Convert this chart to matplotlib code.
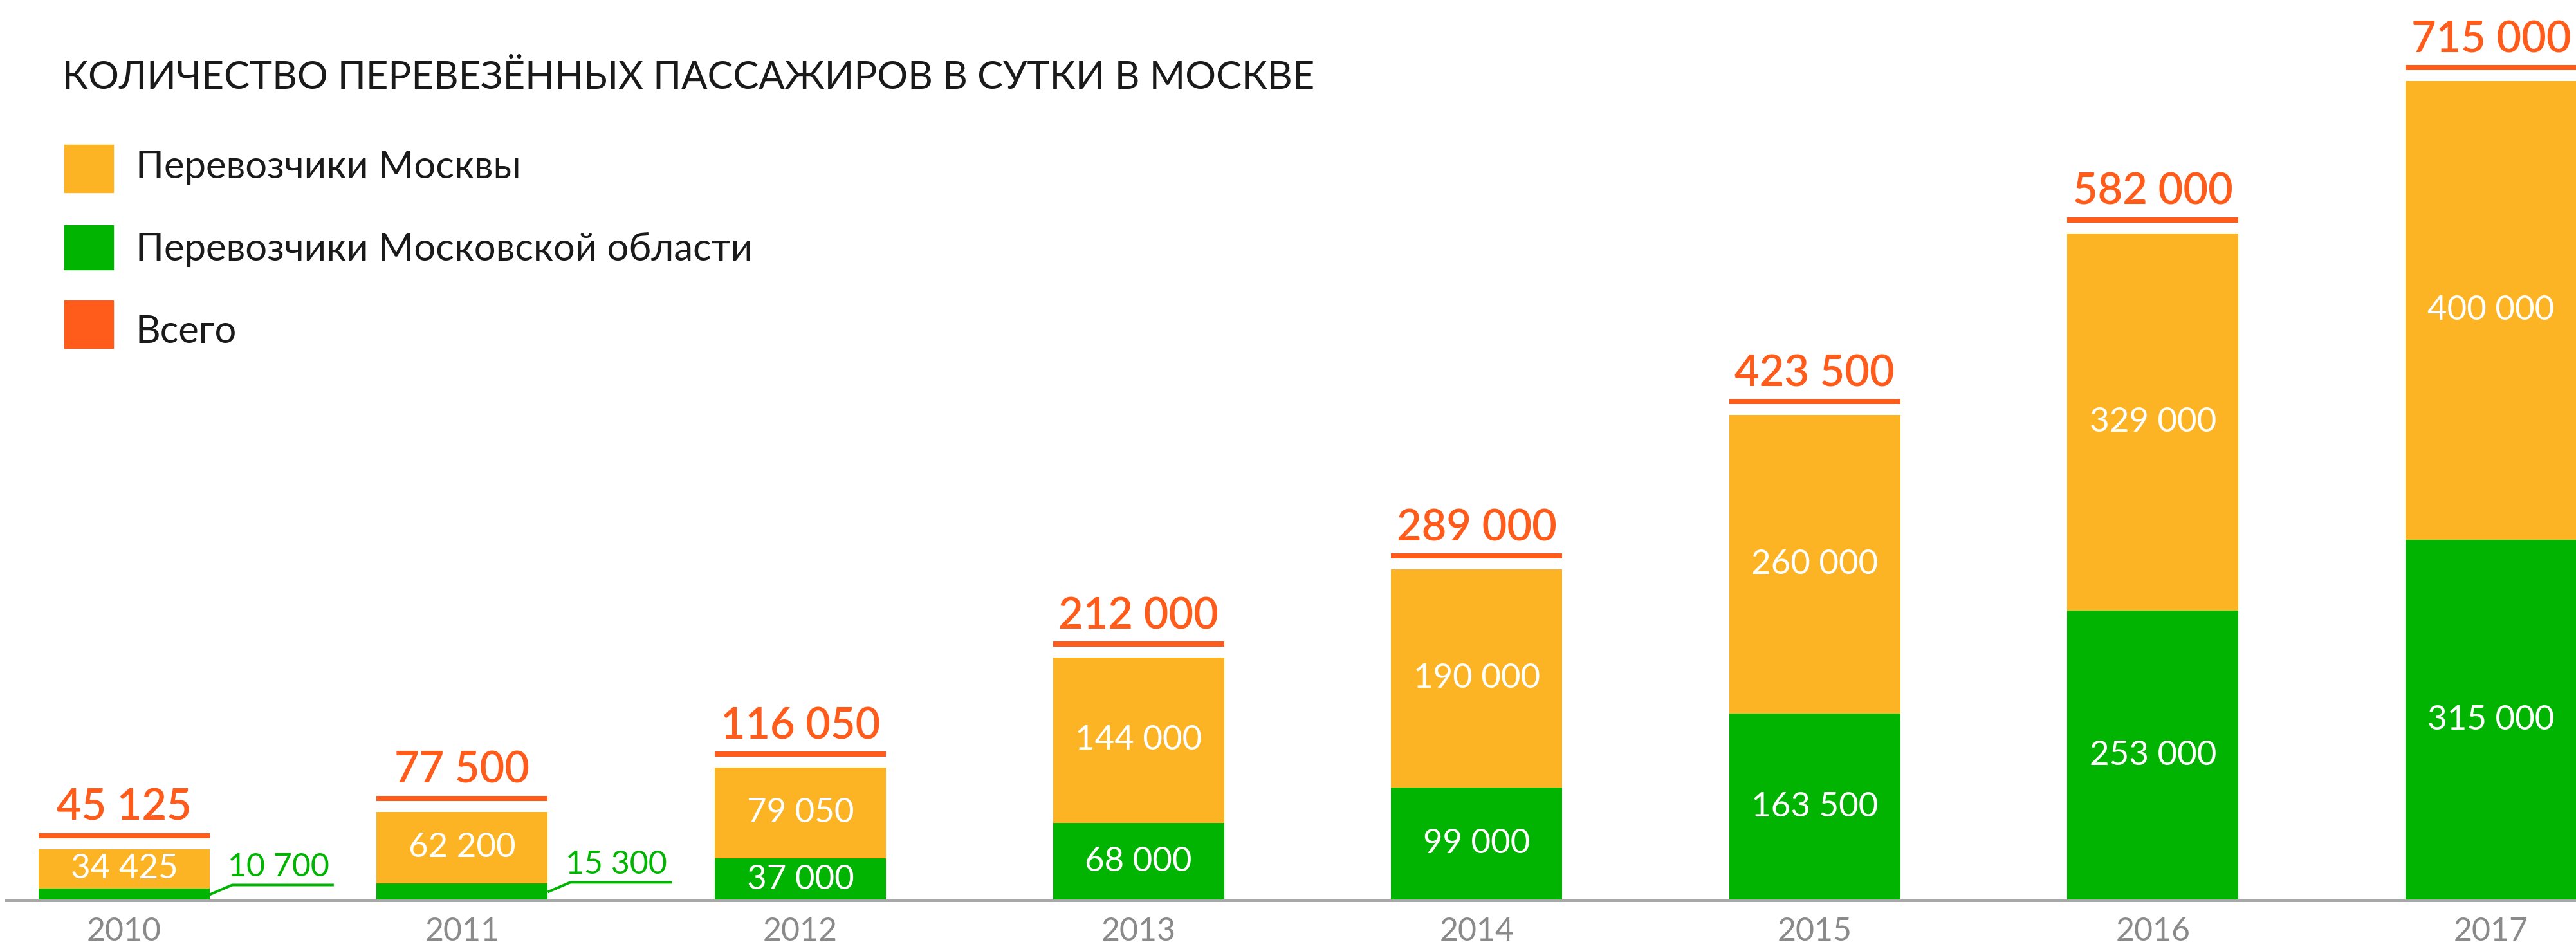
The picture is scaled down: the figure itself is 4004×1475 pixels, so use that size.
import matplotlib
matplotlib.use("Agg")
import matplotlib.pyplot as plt
from matplotlib.patches import Rectangle
import numpy as np

# ---- data ----
years = ["2010", "2011", "2012", "2013", "2014", "2015", "2016", "2017"]
moscow = [34425, 62200, 79050, 144000, 190000, 260000, 329000, 400000]
region = [10700, 15300, 37000, 68000, 99000, 163500, 253000, 315000]
totals = [45125, 77500, 116050, 212000, 289000, 423500, 582000, 715000]
legend_labels = ["Перевозчики Москвы", "Перевозчики Московской области", "Всего"]
title = "КОЛИЧЕСТВО ПЕРЕВЕЗЁННЫХ ПАССАЖИРОВ В СУТКИ В МОСКВЕ"

ORANGE = "#FDB424"
GREEN = "#02B402"
RED = "#FF5C1C"
GREY = "#8A8A8A"
AXIS = "#A8A8A8"

plt.rcParams['font.family'] = ['Lato', 'DejaVu Sans']

W, H = 4004, 1475
DPI = 100
PT = 72 / DPI  # points per pixel

fig = plt.figure(figsize=(W / DPI, H / DPI), dpi=DPI)
ax = fig.add_axes([10 / W, 75 / H, 3994 / W, 1400 / H])

x = np.arange(len(years))
width = 0.506
ax.set_xlim(-0.348, -0.348 + 3994 / 525.57)
ax.set_ylim(0, max(totals) * 1400 / 1274)

ax.bar(x, region, width, color=GREEN, zorder=2)
ax.bar(x, moscow, width, bottom=region, color=ORANGE, zorder=2)

for s in ["top", "right", "left"]:
    ax.spines[s].set_visible(False)
ax.spines["bottom"].set_color(AXIS)
ax.spines["bottom"].set_linewidth(4 * PT)
ax.set_yticks([])
ax.set_xticks(x)
ax.set_xticklabels(years, fontsize=36, color=GREY, fontweight='normal')
ax.tick_params(axis='x', length=0, pad=18)


def fmt(v):
    return f"{v:,}".replace(",", " ")


# conversion of pixel offsets to data units
ylim_top = ax.get_ylim()[1]
px_y = ylim_top / 1400.0
px_x = 1.0 / 525.57

for i in range(len(years)):
    xi = x[i]
    t = totals[i]
    # total line above bar
    ax.hlines(t + 21 * px_y, xi - width / 2, xi + width / 2, color=RED,
              linewidth=8 * PT, capstyle='butt', zorder=3)
    ax.text(xi, t + 45 * px_y, fmt(t), ha='center', va='baseline',
            fontsize=48, color=RED, fontweight='semibold', zorder=4)
    # moscow label
    ax.text(xi, region[i] + moscow[i] / 2, fmt(moscow[i]), ha='center',
            va='center', fontsize=38, color='white', fontweight='normal', zorder=4)
    # region label
    if region[i] / px_y > 50:
        ax.text(xi, region[i] / 2, fmt(region[i]), ha='center', va='center',
                fontsize=38, color='white', fontweight='normal', zorder=4)
    else:
        x0 = xi + width / 2
        y0 = region[i] / 2
        xs = [x0, x0 + 35 * px_x, x0 + 193 * px_x]
        ys = [y0, y0 + 15 * px_y, y0 + 15 * px_y]
        ax.plot(xs, ys, color=GREEN, linewidth=4 * PT, solid_capstyle='butt', zorder=3)
        ax.text(x0 + 28 * px_x, y0 + 42 * px_y, fmt(region[i]), ha='left',
                va='center', fontsize=36, color=GREEN, fontweight='normal', zorder=4)

# title
fig.text(97 / W, 1 - 121 / H, title, ha='left', va='center', fontsize=43,
         color='#1A1A1A', fontweight='normal')

# legend
leg_colors = [ORANGE, GREEN, RED]
leg_boxes = [(225, 299), (350, 419), (467, 541)]
leg_text_y = [260, 388, 516]
for lab, col, (top, bot), ty in zip(legend_labels, leg_colors, leg_boxes, leg_text_y):
    fig.patches.append(Rectangle((100 / W, 1 - bot / H), 76 / W, (bot - top) / H,
                                 transform=fig.transFigure, color=col))
    fig.text(211 / W, 1 - ty / H, lab, ha='left', va='center',
             fontsize=43, color='#1A1A1A', fontweight='normal')

fig.savefig("out.png", dpi=DPI)
